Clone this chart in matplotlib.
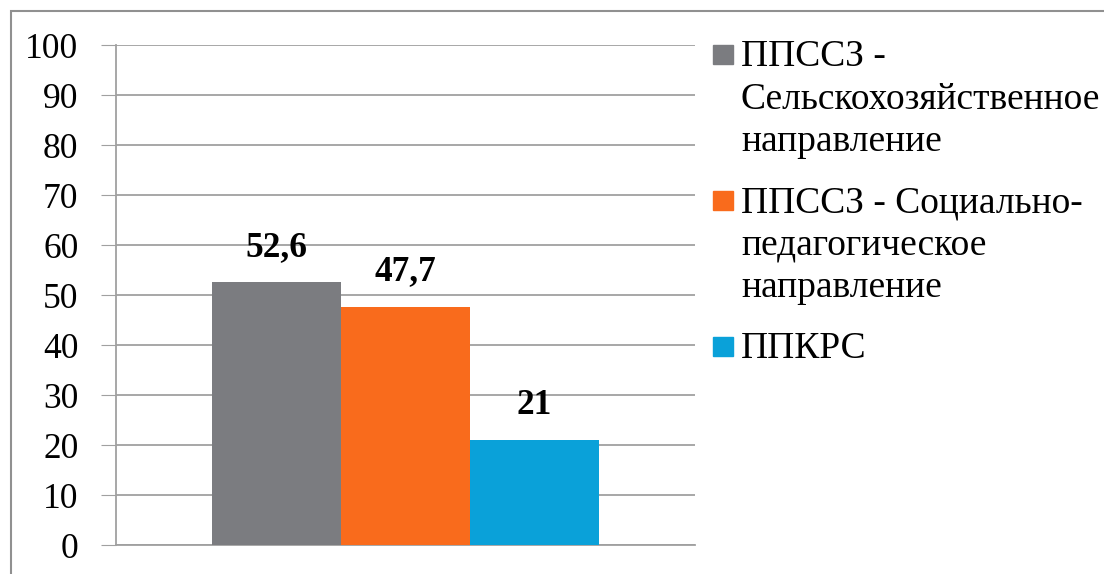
import matplotlib.pyplot as plt
from matplotlib.patches import Rectangle

plt.rcParams['font.family'] = ['Liberation Serif', 'DejaVu Serif']

labels = ["ППССЗ -\nСельскохозяйственное\nнаправление",
          "ППССЗ - Социально-\nпедагогическое\nнаправление",
          "ППКРС"]
values = [52.6, 47.7, 21]
value_text = ["52,6", "47,7", "21"]
colors = ["#7b7c80", "#f96b1c", "#0aa1d9"]
yticks = list(range(0, 101, 10))

W, H = 1104, 574
fig = plt.figure(figsize=(W / 100, H / 100), dpi=100)
# axes: x 116..695 px, y 45..545 px
ax = fig.add_axes([116 / W, 1 - 545 / H, (695 - 116) / W, 500 / H])

w = 0.223
offsets = [-w, 0, w]
for i in range(3):
    bars = ax.bar(offsets[i], values[i], width=w, color=colors[i], zorder=3)
    ax.bar_label(bars, labels=[value_text[i]], padding=13,
                 fontsize=25.5, fontweight='bold')

ax.set_xlim(-0.5, 0.5)
ax.set_ylim(0, 100)
ax.set_yticks(yticks)
ax.set_xticks([])
ax.tick_params(axis='y', labelsize=25.5, length=11, color='#a0a0a0', pad=16)
ax.grid(axis='y', color='#a0a0a0', linewidth=1.3, zorder=0)
for s in ['top', 'right']:
    ax.spines[s].set_visible(False)
for s in ['left', 'bottom']:
    ax.spines[s].set_color('#a0a0a0')
    ax.spines[s].set_linewidth(1.3)

# legend drawn by hand so the square sits on the first line
entry_top = [40, 186, 332]
for i in range(3):
    y = entry_top[i]
    fig.patches.append(Rectangle((713 / W, 1 - (y + 24) / H), 20 / W, 19 / H,
                                 transform=fig.transFigure,
                                 color=colors[i]))
    fig.text(741 / W, 1 - y / H, labels[i], fontsize=27, va='top',
             ha='left', linespacing=1.29)

# outer chart border (clipped at right and bottom)
fig.patches.append(Rectangle((11 / W, -0.1), 1.2, 1 - 11 / H + 0.1,
                             transform=fig.transFigure, fill=False,
                             edgecolor='#909090', linewidth=1.5))

fig.savefig("out.png", dpi=100)
